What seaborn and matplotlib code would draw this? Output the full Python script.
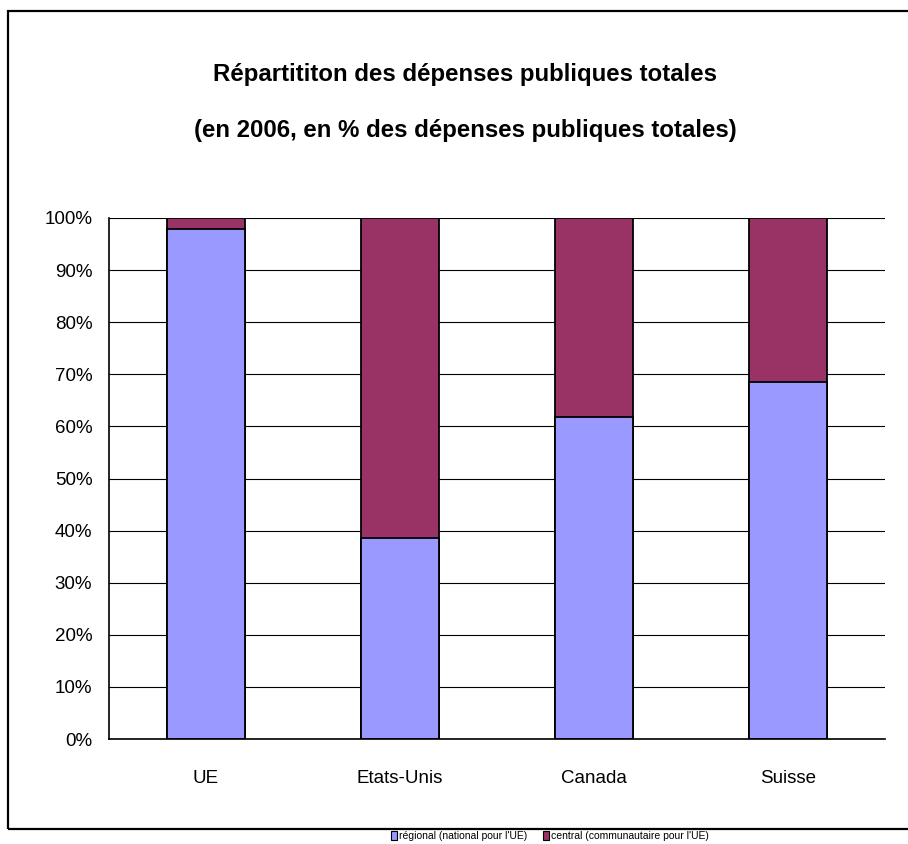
import matplotlib
matplotlib.use("Agg")
import matplotlib.pyplot as plt
import seaborn as sns
import pandas as pd
from matplotlib.patches import Rectangle, Patch
from matplotlib.ticker import FuncFormatter

categories = ["UE", "Etats-Unis", "Canada", "Suisse"]
regional = [97.9, 38.5, 61.8, 68.6]
central = [2.1, 61.5, 38.2, 31.4]
legend_labels = ["régional (national pour l'UE)", "central (communautaire pour l'UE)"]
title_lines = ["Répartititon des dépenses publiques totales",
               "(en 2006, en % des dépenses publiques totales)"]

sns.set_style("white")
plt.rcParams['font.family'] = ['Liberation Sans', 'DejaVu Sans']
plt.rcParams['text.color'] = 'black'
plt.rcParams['xtick.color'] = 'black'
plt.rcParams['ytick.color'] = 'black'

df = pd.DataFrame({"cat": categories, "regional": regional, "central": central})
df["total"] = df["regional"] + df["central"]

col_reg = "#9999FF"
col_cen = "#993366"

fig = plt.figure(figsize=(9.08, 8.44), dpi=100)
ax = fig.add_axes([109/908, 1-739/844, (885-109)/908, (739-218)/844])

sns.barplot(data=df, x="cat", y="total", color=col_cen, edgecolor="black",
            linewidth=1.3, width=0.4, ax=ax, saturation=1)
sns.barplot(data=df, x="cat", y="regional", color=col_reg, edgecolor="black",
            linewidth=1.3, width=0.4, ax=ax, saturation=1)

ax.set_ylim(0, 100)
ax.set_xlim(-0.5, 3.5)
ax.set_yticks(range(0, 101, 10))
ax.yaxis.set_major_formatter(FuncFormatter(lambda v, p: f"{int(v)}%"))
ax.grid(axis="y", color="black", linewidth=0.8)
ax.set_axisbelow(True)
ax.set_xlabel("")
ax.set_ylabel("")
for s in ["top", "right"]:
    ax.spines[s].set_visible(False)
for s in ["left", "bottom"]:
    ax.spines[s].set_color("black")
    ax.spines[s].set_linewidth(1.2)
ax.tick_params(axis="y", length=0, pad=12, labelsize=13.5)
ax.tick_params(axis="x", length=0, pad=22, labelsize=13.5)
# category boundary ticks
ax.set_xticks([0.5, 1.5, 2.5], minor=True)
ax.tick_params(axis="x", which="minor", length=6, width=1, color="black", direction="out")

# outer frame
fig.patches.append(Rectangle((8/908, 1-829/844), 1.2, (829-11)/844,
                             transform=fig.transFigure, fill=False,
                             edgecolor="black", linewidth=1.6, zorder=10))

fig.text(465/908, 1-75/844, title_lines[0], ha="center", va="center",
         fontsize=17.3, fontweight="bold")
fig.text(465/908, 1-130/844, title_lines[1], ha="center", va="center",
         fontsize=17.3, fontweight="bold")

handles = [Patch(facecolor=col_reg, edgecolor="black", linewidth=0.8),
           Patch(facecolor=col_cen, edgecolor="black", linewidth=0.8)]
fig.legend(handles, legend_labels, loc="center", bbox_to_anchor=(550/908, 1-836/844),
           ncol=2, frameon=False, prop={'size': 7.5},
           handlelength=0.6, handleheight=0.9,
           handletextpad=0.2, columnspacing=1.5, borderpad=0)

fig.savefig("out.png", dpi=100)
